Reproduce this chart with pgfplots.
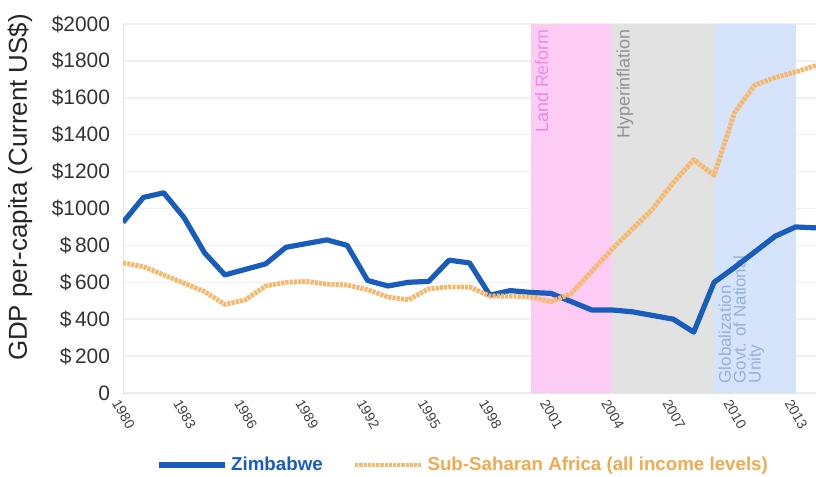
\documentclass[border=0pt]{standalone}
\usepackage{fontspec}
\setmainfont{Liberation Sans}
\usepackage{pgfplots}
\pgfplotsset{compat=1.18}
\definecolor{zblue}{RGB}{24,92,188}
\definecolor{ssa}{RGB}{246,184,108}
\definecolor{ssatext}{RGB}{240,170,80}
\definecolor{landpink}{RGB}{253,204,245}
\definecolor{hypgray}{RGB}{226,226,226}
\definecolor{gnublue}{RGB}{214,228,251}
\begin{document}
\begin{tikzpicture}
\begin{axis}[
    scale only axis,
    width=346.5bp, height=184.5bp,
    xmin=1980, xmax=2014, ymin=0, ymax=2000,
    axis x line*=bottom, axis y line*=left,
    axis line style={gray!20},
    tick style={draw=none},
    ytick={0,200,...,2000},
    yticklabels={0,\$\,200,\$\,400,\$\,600,\$\,800,\$1000,\$1200,\$1400,\$1600,\$1800,\$2000},
    yticklabel style={font=\fontsize{10.5}{12}\selectfont, text=black!80, xshift=-3bp},
    xtick={1980,1983,...,2013},
    xticklabel style={rotate=-60, anchor=west, font=\fontsize{7}{8}\selectfont, text=black!75, xshift=-2bp, yshift=-5bp},
    /pgf/number format/.cd, 1000 sep={}, assume math mode=true, /pgfplots/.cd,
    ymajorgrids, grid style={gray!12, line width=0.8pt},
    ylabel={GDP per-capita (Current US\$)},
    ylabel style={at={(rel axis cs:0,0.557)}, anchor=center, yshift=51.5bp, font=\fontsize{13}{14}\selectfont, text=black!85},
    legend columns=2,
    legend style={draw=none, fill=none, at={(0.492,-0.195)}, anchor=center,
        font=\fontsize{9.4}{10}\selectfont\bfseries, column sep=0bp,
        /tikz/every even column/.append style={column sep=13bp}},
    legend image code/.code={\draw[#1] (0bp,0bp) -- (33bp,0bp);},
]
% periods
\addplot[fill=landpink, draw=none, forget plot] coordinates {(2000,2000) (2004,2000)} \closedcycle;
\addplot[fill=hypgray, draw=none, forget plot] coordinates {(2004,2000) (2009,2000)} \closedcycle;
\addplot[fill=gnublue, draw=none, forget plot] coordinates {(2009,2000) (2013,2000)} \closedcycle;

\node[rotate=90, anchor=north east, text={rgb,255:red,236;green,140;blue,224}, font=\fontsize{9}{10}\selectfont, inner sep=1bp]
    at (axis cs:2000.1,1985) {Land Reform};
\node[rotate=90, anchor=north east, text=gray!85, font=\fontsize{9}{10}\selectfont, inner sep=1bp]
    at (axis cs:2004.1,1985) {Hyperinflation};
\node[rotate=90, anchor=north west, align=left, text={rgb,255:red,150;green,176;blue,220}, font=\fontsize{8.5}{7.5}\selectfont, inner sep=1bp]
    at (axis cs:2009.1,40) {Globalization\\Govt. of National\\Unity};

\addplot[zblue, line width=2.6bp, line join=round] coordinates {
(1980,925) (1981,1060) (1982,1085) (1983,950) (1984,760) (1985,640)
(1986,670) (1987,700) (1988,790) (1989,810) (1990,830) (1991,800)
(1992,610) (1993,580) (1994,600) (1995,605) (1996,720) (1997,705)
(1998,530) (1999,555) (2000,545) (2001,540) (2002,495) (2003,450)
(2004,450) (2005,440) (2006,420) (2007,400) (2008,330) (2009,600)
(2010,680) (2011,765) (2012,850) (2013,900) (2014,895)
};
\addlegendentry{\textcolor{zblue}{Zimbabwe}}

\addplot[ssa, line width=2.4bp, line join=round, dash pattern=on 1.6bp off 0.5bp] coordinates {
(1980,705) (1981,685) (1982,640) (1983,595) (1984,550) (1985,480)
(1986,505) (1987,580) (1988,600) (1989,605) (1990,590) (1991,585)
(1992,560) (1993,520) (1994,505) (1995,565) (1996,575) (1997,575)
(1998,525) (1999,525) (2000,520) (2001,495) (2002,540) (2003,660)
(2004,780) (2005,890) (2006,1000) (2007,1140) (2008,1265) (2009,1180)
(2010,1520) (2011,1670) (2012,1710) (2013,1740) (2014,1775)
};
\addlegendentry{\textcolor{ssatext}{Sub-Saharan Africa (all income levels)}}
\end{axis}
\pgfresetboundingbox
\path[use as bounding box] ([shift={(-61.5bp,-42bp)}]current axis.south west) rectangle ([shift={(0bp,12bp)}]current axis.north east);
\end{tikzpicture}
\end{document}
